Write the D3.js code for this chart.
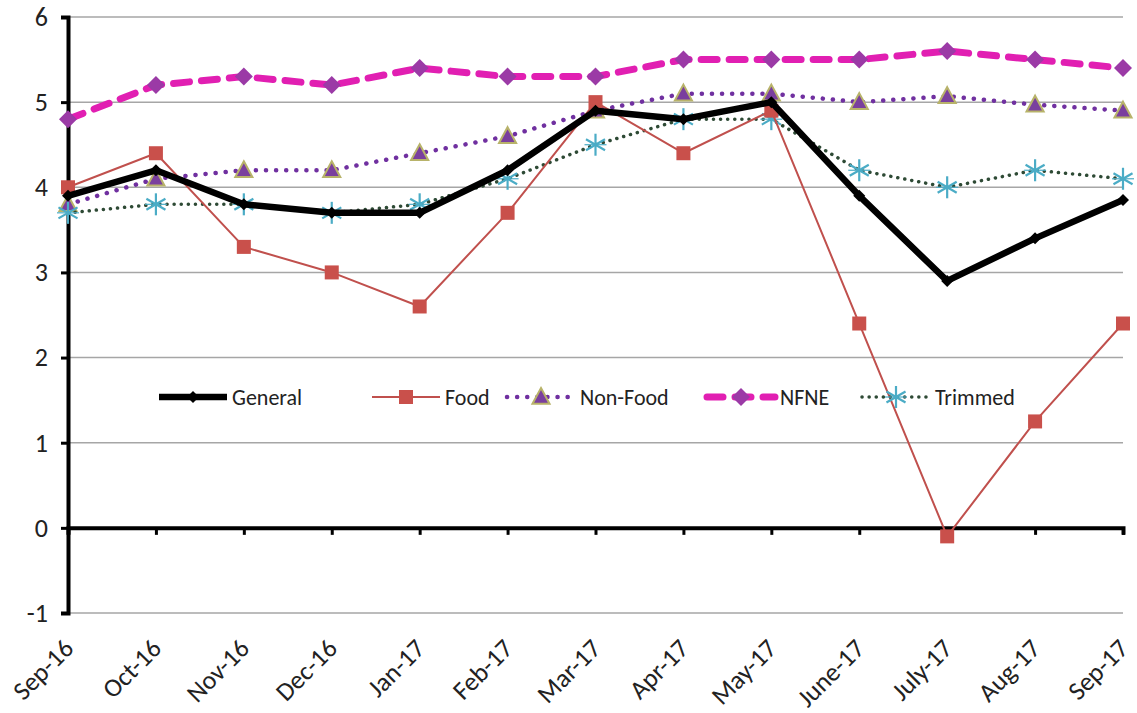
<!DOCTYPE html>
<html>
<head>
<meta charset="utf-8">
<script src="https://cdn.jsdelivr.net/npm/d3@7"></script>
<style>
  body { margin: 0; background: #fff; }
  text { font-family: Carlito, "Liberation Sans Narrow", "DejaVu Sans Condensed", "Open Sans", sans-serif; fill: #222; }
</style>
</head>
<body>
<div id="chart"></div>
<script>
var width = 1137;
var height = 713;

var months = ['Sep-16', 'Oct-16', 'Nov-16', 'Dec-16', 'Jan-17', 'Feb-17', 'Mar-17',
  'Apr-17', 'May-17', 'June-17', 'July-17', 'Aug-17', 'Sep-17'];
var generalValues = [3.9, 4.2, 3.8, 3.7, 3.7, 4.2, 4.9, 4.8, 5.0, 3.9, 2.9, 3.4, 3.85];
var foodValues = [4.0, 4.4, 3.3, 3.0, 2.6, 3.7, 5.0, 4.4, 4.9, 2.4, -0.1, 1.25, 2.4];
var nonFoodValues = [3.8, 4.1, 4.2, 4.2, 4.4, 4.6, 4.9, 5.1, 5.1, 5.0, 5.07, 4.97, 4.9];
var nfneValues = [4.8, 5.2, 5.3, 5.2, 5.4, 5.3, 5.3, 5.5, 5.5, 5.5, 5.6, 5.5, 5.4];
var trimmedValues = [3.7, 3.8, 3.8, 3.7, 3.8, 4.1, 4.5, 4.8, 4.8, 4.2, 4.0, 4.2, 4.1];
var yTicks = [-1, 0, 1, 2, 3, 4, 5, 6];

var svg = d3.select("#chart").append("svg")
  .attr("width", width)
  .attr("height", height);

var x = d3.scalePoint()
  .domain(months)
  .range([68, 1123]);

var y = d3.scaleLinear()
  .domain([-1, 6])
  .range([613, 17]);

// gridlines
svg.append("g")
  .selectAll("line")
  .data(yTicks.filter(function(d) { return d !== 0; }))
  .enter().append("line")
  .attr("x1", x.range()[0])
  .attr("x2", x.range()[1])
  .attr("y1", function(d) { return y(d); })
  .attr("y2", function(d) { return y(d); })
  .attr("stroke", "#a6a6a6")
  .attr("stroke-width", 1.5);

// y axis
var yAxis = svg.append("g")
  .attr("transform", "translate(" + x.range()[0] + ",0)")
  .call(d3.axisLeft(y).tickValues(yTicks).tickSize(7).tickPadding(13).tickFormat(function(d) { return String(d); }));
yAxis.select(".domain").attr("stroke", "#000").attr("stroke-width", 4);
yAxis.selectAll(".tick line").attr("stroke", "#000").attr("stroke-width", 3);
yAxis.selectAll(".tick text").style("font-size", "26px").attr("fill", "#333");

// x axis at zero
var xAxis = svg.append("g")
  .attr("transform", "translate(0," + y(0) + ")")
  .call(d3.axisBottom(x).tickSize(7).tickFormat(""));
xAxis.select(".domain").attr("stroke", "#000").attr("stroke-width", 4);
xAxis.selectAll(".tick line").attr("stroke", "#000").attr("stroke-width", 3);

// x labels at the bottom, rotated
svg.append("g")
  .selectAll("text")
  .data(months)
  .enter().append("text")
  .attr("transform", function(d) { return "translate(" + (x(d) + 7) + ",650) rotate(-45)"; })
  .attr("text-anchor", "end")
  .style("font-size", "26px")
  .attr("fill", "#333")
  .text(function(d) { return d; });

var line = d3.line()
  .x(function(d, i) { return x(months[i]); })
  .y(function(d) { return y(d); });

function diamond(g, cx, cy, r, fill, stroke) {
  g.append("path")
    .attr("d", "M" + cx + "," + (cy - r) + "L" + (cx + r) + "," + cy + "L" + cx + "," + (cy + r) + "L" + (cx - r) + "," + cy + "Z")
    .attr("fill", fill).attr("stroke", stroke || "none");
}
function square(g, cx, cy, r, fill) {
  g.append("rect").attr("x", cx - r).attr("y", cy - r).attr("width", 2 * r).attr("height", 2 * r).attr("fill", fill);
}
function triangle(g, cx, cy, r, fill, stroke) {
  g.append("path")
    .attr("d", "M" + cx + "," + (cy - r) + "L" + (cx + r * 0.95) + "," + (cy + r * 0.75) + "L" + (cx - r * 0.95) + "," + (cy + r * 0.75) + "Z")
    .attr("fill", fill).attr("stroke", stroke).attr("stroke-width", 2);
}
function star(g, cx, cy, r, color) {
  var s = g.append("g").attr("stroke", color).attr("stroke-width", 2.2);
  [0, 60, 120].forEach(function(a) {
    var rad = a * Math.PI / 180;
    s.append("line")
      .attr("x1", cx - r * Math.sin(rad)).attr("y1", cy - r * Math.cos(rad))
      .attr("x2", cx + r * Math.sin(rad)).attr("y2", cy + r * Math.cos(rad));
  });
  s.append("line").attr("x1", cx - r).attr("x2", cx + r).attr("y1", cy).attr("y2", cy).attr("stroke-width", 1.2);
}

var series = [
  { name: "Non-Food", values: nonFoodValues, color: "#7030a0", width: 4.5, dash: "0.1 10", cap: "round",
    marker: function(g, cx, cy) { triangle(g, cx, cy, 9, "#7a3f9e", "#b8b36a"); } },
  { name: "NFNE", values: nfneValues, color: "#e11fb2", width: 7, dash: "16 12", cap: "round",
    marker: function(g, cx, cy) { diamond(g, cx, cy, 9, "#9b3aa6"); } },
  { name: "Trimmed", values: trimmedValues, color: "#2e4a35", width: 3.5, dash: "0.1 7", cap: "round",
    marker: function(g, cx, cy) { star(g, cx, cy, 11, "#4bacc6"); } },
  { name: "Food", values: foodValues, color: "#c0504d", width: 2, dash: null, cap: "butt",
    marker: function(g, cx, cy) { square(g, cx, cy, 7, "#c9504b"); } },
  { name: "General", values: generalValues, color: "#000", width: 6.5, dash: null, cap: "butt",
    marker: function(g, cx, cy) { diamond(g, cx, cy, 6, "#000"); } }
];

series.forEach(function(s) {
  svg.append("path")
    .attr("d", line(s.values))
    .attr("fill", "none")
    .attr("stroke", s.color)
    .attr("stroke-width", s.width)
    .attr("stroke-linecap", s.cap)
    .attr("stroke-linejoin", "round")
    .attr("stroke-dasharray", s.dash);
  var mg = svg.append("g");
  s.values.forEach(function(v, i) { s.marker(mg, x(months[i]), y(v)); });
});

// legend
var legendOrder = ["General", "Food", "Non-Food", "NFNE", "Trimmed"];
var legendX = [155, 368, 503, 703, 858];
var legendY = 397;
legendOrder.forEach(function(name, i) {
  var s = series.filter(function(d) { return d.name === name; })[0];
  var g = svg.append("g");
  var x0 = legendX[i];
  g.append("line")
    .attr("x1", x0 + 4).attr("x2", x0 + 72)
    .attr("y1", legendY).attr("y2", legendY)
    .attr("stroke", s.color)
    .attr("stroke-width", s.width)
    .attr("stroke-linecap", s.cap)
    .attr("stroke-dasharray", s.dash);
  s.marker(g, x0 + 38, legendY);
  g.append("text")
    .attr("x", x0 + 77)
    .attr("y", legendY)
    .attr("dy", "0.35em")
    .style("font-size", "22px")
    .attr("fill", "#333")
    .text(name);
});
</script>
</body>
</html>
